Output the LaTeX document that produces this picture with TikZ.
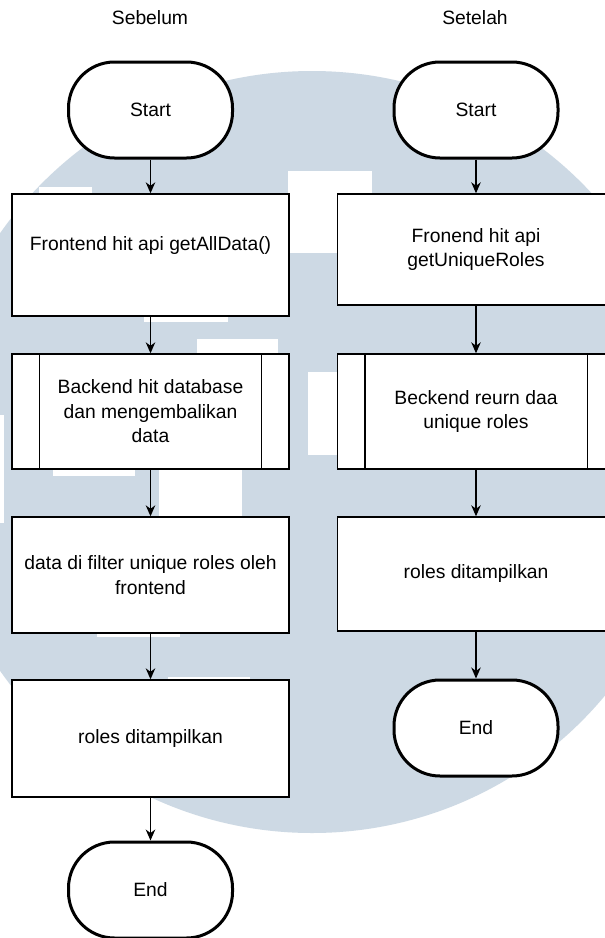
\documentclass[tikz,border=0pt]{standalone}
\usepackage{fontspec}
\setmainfont{Liberation Sans}
\usetikzlibrary{arrows.meta}
\definecolor{wmblue}{RGB}{205,217,228}
\tikzset{
  txtfont/.style={font=\fontsize{19.3}{24.5}\selectfont},
  base/.style={txtfont, align=center, inner sep=0pt, fill=white},
  proc/.style={base, draw=black, line width=1.4pt, minimum width=277pt},
  term/.style={base, draw=black, line width=3pt, rounded corners=46pt,
               minimum width=164pt, minimum height=96pt},
  lbl/.style={txtfont, align=center, inner sep=0pt},
  flow/.style={line width=1.3pt, -{Stealth[length=11pt,width=9.5pt,inset=3.5pt]}},
  sidebar/.style={line width=1.4pt},
}
\begin{document}
\begin{tikzpicture}[x=1pt,y=-1pt]
\clip (0,0) rectangle (605,938);
\fill[white] (0,0) rectangle (605,938);

% watermark: pale disc with white blocks
\fill[wmblue] (312,452) circle[radius=381pt];
\fill[white] (288,171) rectangle (372,253);
\fill[white] (308,372) rectangle (372,455);
\fill[white] (144,280) rectangle (228,322);
\fill[white] (197,339) rectangle (278,420);
\fill[white] (53,420) rectangle (135,476);
\fill[white] (159,440) rectangle (242,560);
\fill[white] (97,600) rectangle (180,637);
\fill[white] (168,677) rectangle (250,720);
\fill[white] (39,187) rectangle (92,230);
\fill[white] (0,415) rectangle (4,523);

% column titles
\node[lbl] (tleft) at (150,18) {Sebelum};
\node[lbl] (tright) at (475,18) {Setelah};

% left column: before
\node[term] (ls) at (150.5,110) {Start};
\node[proc, minimum height=122pt] (l1) at (150.5,255) {};
\node[lbl] (l1t) at (150.5,246) {Frontend hit api getAllData()};
\node[proc, minimum height=115pt] (l2) at (150.5,411.5) {Backend hit database\\dan mengembalikan\\data};
\node[proc, minimum height=116pt] (l3) at (150.5,575) {data di filter unique roles oleh\\frontend};
\node[proc, minimum height=117pt] (l4) at (150.5,738.5) {roles ditampilkan};
\node[term] (le) at (150.5,890) {End};

\draw[sidebar] ([xshift=28pt]l2.north west) -- ([xshift=28pt]l2.south west);
\draw[sidebar] ([xshift=-28pt]l2.north east) -- ([xshift=-28pt]l2.south east);

\draw[flow] (ls) -- (l1);
\draw[flow] (l1) -- (l2);
\draw[flow] (l2) -- (l3);
\draw[flow] (l3) -- (l4);
\draw[flow] (l4) -- (le);

% right column: after
\node[term] (rs) at (476,110) {Start};
\node[proc, minimum height=111pt] (r1) at (476,249.5) {Fronend hit api\\getUniqueRoles};
\node[proc, minimum height=115pt] (r2) at (476,411.5) {Beckend reurn daa\\unique roles};
\node[proc, minimum height=114pt] (r3) at (476,574) {roles ditampilkan};
\node[term] (re) at (476,728) {End};

\draw[sidebar] ([xshift=28pt]r2.north west) -- ([xshift=28pt]r2.south west);
\draw[sidebar] ([xshift=-28pt]r2.north east) -- ([xshift=-28pt]r2.south east);

\draw[flow] (rs) -- (r1);
\draw[flow] (r1) -- (r2);
\draw[flow] (r2) -- (r3);
\draw[flow] (r3) -- (re);
\end{tikzpicture}
\end{document}
